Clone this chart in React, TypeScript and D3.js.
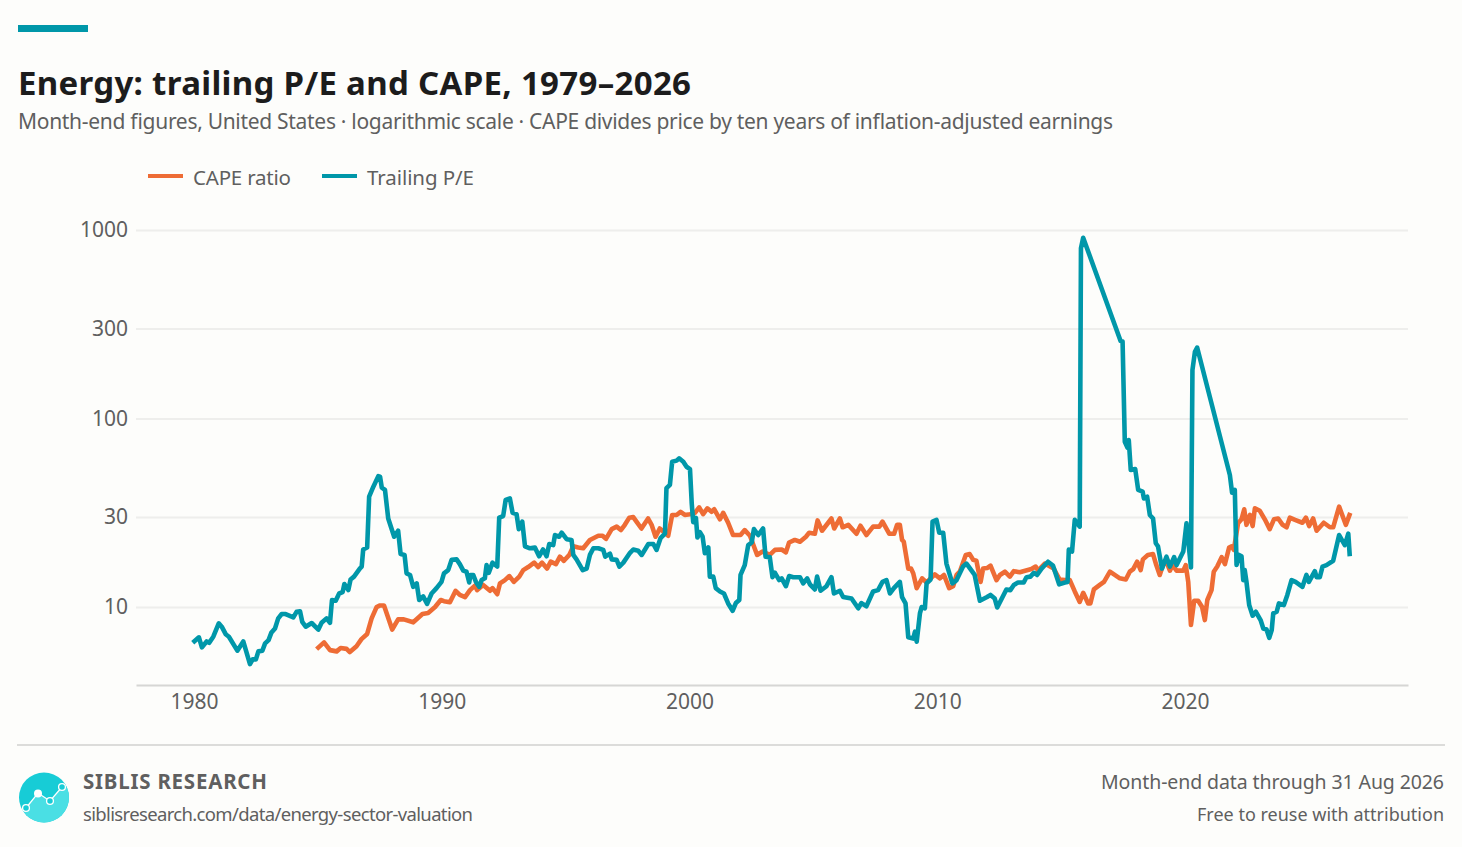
import { useEffect, useRef } from "react";
import * as d3 from "d3";

const TEAL = "#0097a9";
const ORANGE = "#ee6c35";
const INK = "#1c1c1c";
const GREY = "#5f5f5f";
const FONT = "'Noto Sans', sans-serif";

const yTicks = [10, 30, 100, 300, 1000];
const xTicks = [1980, 1990, 2000, 2010, 2020];

const peYears = [
  1979.95, 1980.2, 1980.32, 1980.51, 1980.61, 1980.78, 1981.0, 1981.12, 1981.28, 1981.41, 1981.75, 1981.99, 1982.26, 1982.37,
  1982.5, 1982.6, 1982.76, 1982.87, 1983.01, 1983.12, 1983.27, 1983.4, 1983.54, 1983.7, 1984.01, 1984.14, 1984.28, 1984.37,
  1984.51, 1984.75, 1985.02, 1985.15, 1985.35, 1985.49, 1985.57, 1985.72, 1985.86, 1986.0, 1986.07, 1986.23, 1986.32, 1986.46,
  1986.7, 1986.77, 1986.83, 1986.99, 1987.07, 1987.24, 1987.44, 1987.51, 1987.58, 1987.71, 1987.84, 1988.08, 1988.24, 1988.34,
  1988.5, 1988.58, 1988.72, 1988.85, 1988.99, 1989.09, 1989.25, 1989.41, 1989.59, 1989.79, 1989.99, 1990.09, 1990.26, 1990.4,
  1990.6, 1990.73, 1990.87, 1991.0, 1991.11, 1991.16, 1991.27, 1991.38, 1991.51, 1991.61, 1991.74, 1991.81, 1991.9, 1992.05,
  1992.24, 1992.32, 1992.48, 1992.58, 1992.75, 1992.86, 1993.02, 1993.11, 1993.25, 1993.36, 1993.56, 1993.76, 1993.93, 1994.09,
  1994.23, 1994.34, 1994.5, 1994.57, 1994.74, 1994.84, 1995.04, 1995.24, 1995.31, 1995.44, 1995.69, 1995.85, 1995.98, 1996.12,
  1996.32, 1996.52, 1996.6, 1996.79, 1996.86, 1997.06, 1997.17, 1997.33, 1997.6, 1997.73, 1997.93, 1998.07, 1998.34, 1998.54,
  1998.67, 1998.83, 1999.01, 1999.07, 1999.21, 1999.3, 1999.48, 1999.58, 1999.75, 1999.88, 2000.02, 2000.09, 2000.15, 2000.26,
  2000.32, 2000.42, 2000.53, 2000.62, 2000.76, 2000.82, 2000.96, 2001.06, 2001.23, 2001.39, 2001.56, 2001.74, 2001.87, 2002.01,
  2002.06, 2002.23, 2002.37, 2002.51, 2002.6, 2002.77, 2002.97, 2003.07, 2003.24, 2003.35, 2003.45, 2003.62, 2003.72, 2003.89,
  2004.02, 2004.19, 2004.46, 2004.59, 2004.75, 2004.86, 2005.06, 2005.15, 2005.29, 2005.53, 2005.73, 2005.83, 2006.07, 2006.2,
  2006.54, 2006.81, 2006.94, 2007.14, 2007.41, 2007.61, 2007.79, 2007.95, 2008.09, 2008.25, 2008.49, 2008.58, 2008.72, 2008.83,
  2009.03, 2009.1, 2009.17, 2009.3, 2009.37, 2009.5, 2009.57, 2009.73, 2009.81, 2009.97, 2010.08, 2010.24, 2010.37, 2010.61,
  2010.78, 2011.04, 2011.18, 2011.51, 2011.72, 2012.01, 2012.15, 2012.32, 2012.42, 2012.59, 2012.79, 2012.95, 2013.09, 2013.26,
  2013.49, 2013.6, 2013.76, 2013.9, 2014.03, 2014.21, 2014.47, 2014.67, 2014.92, 2015.15, 2015.26, 2015.31, 2015.44, 2015.55,
  2015.75, 2015.8, 2015.89, 2017.4, 2017.48, 2017.57, 2017.68, 2017.73, 2017.81, 2017.99, 2018.11, 2018.29, 2018.34, 2018.47,
  2018.58, 2018.71, 2018.82, 2018.91, 2019.07, 2019.25, 2019.39, 2019.56, 2019.66, 2019.93, 2020.06, 2020.24, 2020.3, 2020.4,
  2020.49, 2021.81, 2021.9, 2022.01, 2022.08, 2022.18, 2022.28, 2022.35, 2022.41, 2022.48, 2022.59, 2022.73, 2022.86, 2023.05,
  2023.16, 2023.29, 2023.4, 2023.5, 2023.56, 2023.7, 2023.79, 2023.99, 2024.13, 2024.3, 2024.46, 2024.74, 2024.9, 2025.0,
  2025.24, 2025.31, 2025.44, 2025.55, 2025.71, 2025.98, 2026.22, 2026.45, 2026.59, 2026.65,
];

const peValues = [
  6.46, 6.91, 6.11, 6.57, 6.46, 6.96, 8.2, 7.87, 7.18, 6.96, 5.87, 6.57, 4.98, 5.28,
  5.28, 5.82, 5.87, 6.42, 6.68, 7.3, 7.7, 8.71, 9.18, 9.18, 8.82, 9.44, 9.5, 8.35,
  7.87, 8.23, 7.6, 8.26, 8.71, 8.26, 10.89, 10.8, 11.8, 12.0, 13.25, 12.3, 14.0, 14.5,
  16.05, 16.4, 20.2, 20.7, 38.5, 43.5, 49.5, 49.2, 43, 41.8, 29.5, 23.6, 25.4, 19.1,
  18.9, 15.1, 14.8, 12.8, 13.35, 10.9, 11.4, 10.4, 11.8, 12.6, 13.6, 15.1, 15.7, 17.8,
  17.9, 16.9, 15.6, 15.4, 13.5, 14.8, 14.8, 13.6, 12.8, 13.9, 14.2, 16.7, 15.2, 17.2,
  16.4, 29.8, 30.4, 37, 37.7, 31.6, 31.1, 25.9, 28.4, 21, 20.5, 20.7, 18.6, 20.2,
  18.6, 21.6, 21.3, 24.1, 23.6, 24.8, 22.9, 22.7, 18.9, 17.9, 15.7, 16, 18.9, 20.5,
  20.5, 20.1, 18.5, 19.2, 17.9, 17.8, 16.4, 17.2, 19.4, 20.2, 19.9, 18.9, 21.6, 21.6,
  20.1, 23.2, 24.5, 42.7, 44.5, 59, 59.8, 61.5, 59, 55.5, 53.9, 35.5, 28.2, 29.7,
  23.4, 25, 23.6, 19.3, 20.7, 14.5, 14.5, 12.6, 12.1, 11.8, 10.45, 9.56, 10.5, 10.9,
  14.8, 16.7, 21.3, 22, 25.9, 24.1, 26.1, 18.5, 18.4, 14.4, 15.2, 13.9, 14.2, 12.9,
  14.6, 14.4, 14.4, 13.35, 14.2, 13.2, 12.4, 14.5, 12.2, 12.9, 14.4, 11.8, 12.2, 11.3,
  11.1, 9.85, 10.5, 10.1, 12.1, 12.3, 13.6, 13.9, 11.8, 12.6, 13.6, 11.3, 10.45, 6.91,
  6.8, 7.4, 6.55, 9.25, 10, 9.85, 13.35, 14, 28.4, 29, 24.8, 24.8, 17, 13.35,
  13.9, 16.4, 17, 14.8, 10.8, 11.3, 11.6, 11.1, 9.95, 11, 12.4, 12.3, 13.1, 13.5,
  13.5, 14.4, 14.5, 15.2, 14.8, 16, 17.4, 16.6, 13.2, 13.5, 13.6, 20.2, 19.7, 29,
  26.7, 800, 910, 258, 256, 75.3, 70, 76.9, 53.3, 54, 41.8, 40.9, 37.7, 38.5,
  30.8, 29.5, 21.8, 21, 16, 18.5, 16.4, 18.4, 16.7, 19.7, 27.8, 16.2, 181, 226,
  238, 50.2, 40.4, 41.8, 16.7, 18.9, 18.6, 13.9, 15.7, 13.6, 10.25, 9, 9.44, 8.53,
  7.7, 7.6, 6.87, 7.55, 9.25, 9.44, 10.45, 10.25, 11.6, 13.9, 13.6, 12.8, 14.8, 13.6,
  15.5, 14.4, 14.4, 16.4, 16.7, 17.6, 24.1, 21.3, 24.5, 18.6,
];

const capeYears = [
  1984.95, 1985.25, 1985.49, 1985.76, 1985.92, 1986.16, 1986.29, 1986.56, 1986.76, 1986.99, 1987.17, 1987.37, 1987.51, 1987.67,
  1988.0, 1988.24, 1988.47, 1988.85, 1989.22, 1989.45, 1989.73, 1989.96, 1990.09, 1990.33, 1990.56, 1990.73, 1990.94, 1991.14,
  1991.34, 1991.43, 1991.67, 1991.95, 1992.05, 1992.24, 1992.35, 1992.55, 1992.73, 1992.91, 1993.13, 1993.29, 1993.49, 1993.73,
  1993.89, 1994.05, 1994.25, 1994.4, 1994.61, 1994.77, 1994.93, 1995.15, 1995.31, 1995.51, 1995.71, 1995.98, 1996.32, 1996.49,
  1996.63, 1996.86, 1997.06, 1997.23, 1997.39, 1997.57, 1997.73, 1997.86, 1998.06, 1998.33, 1998.47, 1998.63, 1998.8, 1999.14,
  1999.3, 1999.48, 1999.64, 1999.81, 2000.02, 2000.22, 2000.39, 2000.55, 2000.72, 2000.89, 2001.0, 2001.23, 2001.36, 2001.56,
  2001.76, 2002.06, 2002.23, 2002.44, 2002.73, 2002.95, 2003.24, 2003.45, 2003.72, 2003.89, 2004.02, 2004.25, 2004.46, 2004.7,
  2004.83, 2005.06, 2005.17, 2005.35, 2005.73, 2005.84, 2006.07, 2006.18, 2006.41, 2006.74, 2006.9, 2007.14, 2007.41, 2007.66,
  2007.79, 2008.06, 2008.26, 2008.38, 2008.49, 2008.58, 2008.65, 2008.83, 2008.94, 2009.03, 2009.17, 2009.39, 2009.57, 2009.9,
  2010.11, 2010.27, 2010.48, 2010.64, 2010.78, 2010.91, 2011.15, 2011.31, 2011.45, 2011.58, 2011.75, 2011.85, 2012.01, 2012.15,
  2012.39, 2012.53, 2012.73, 2012.93, 2013.09, 2013.33, 2013.8, 2013.97, 2014.07, 2014.34, 2014.7, 2014.94, 2015.15, 2015.35,
  2015.55, 2015.75, 2015.89, 2016.09, 2016.18, 2016.32, 2016.56, 2016.73, 2016.97, 2017.37, 2017.61, 2017.77, 2017.91, 2018.07,
  2018.21, 2018.3, 2018.5, 2018.71, 2018.84, 2018.98, 2019.11, 2019.25, 2019.39, 2019.5, 2019.66, 2019.93, 2020.03, 2020.13,
  2020.24, 2020.37, 2020.53, 2020.69, 2020.8, 2020.9, 2021.07, 2021.16, 2021.3, 2021.48, 2021.61, 2021.78, 2021.88, 2021.97,
  2022.14, 2022.28, 2022.39, 2022.48, 2022.62, 2022.73, 2022.82, 2023.02, 2023.22, 2023.42, 2023.59, 2023.76, 2023.94, 2024.1,
  2024.23, 2024.44, 2024.74, 2024.88, 2025.01, 2025.17, 2025.31, 2025.6, 2025.85, 2025.98, 2026.22, 2026.49, 2026.67,
];

const capeValues = [
  5.98, 6.5, 5.91, 5.82, 6.06, 6, 5.77, 6.2, 6.76, 7.2, 8.71, 10, 10.2, 10.2,
  7.6, 8.6, 8.6, 8.3, 9.18, 9.3, 10, 10.9, 10.75, 10.6, 12.2, 11.6, 11.3, 12.3,
  13, 12.3, 13.1, 12.2, 12.6, 11.7, 13.35, 13.9, 14.6, 13.6, 14.5, 15.7, 16.3, 17.2,
  16.3, 17.2, 16, 17.4, 16.9, 18.5, 17.6, 18.9, 21, 20.7, 20.5, 22.7, 23.9, 23.9,
  23, 25.9, 26.7, 25.6, 27.3, 29.8, 30, 28.4, 26.1, 29.5, 27.3, 23.6, 26.1, 23.9,
  30.8, 30.8, 32, 30.8, 31.1, 31.6, 33.8, 31.1, 33.4, 32, 33, 29.2, 31.6, 28,
  24.1, 24.1, 25.6, 23.9, 18.9, 19.7, 18.9, 20.1, 20.2, 19.5, 22, 22.7, 22.2, 23.6,
  24.8, 24.5, 28.8, 25.4, 29.5, 26.1, 29.5, 26.5, 27.3, 24.5, 27, 24.1, 26.7, 26.7,
  28.4, 24.5, 24.5, 27.3, 27.3, 22.7, 22.2, 16, 16, 15.1, 12.6, 14.2, 13.5, 14.9,
  14.2, 14.8, 12.6, 12.9, 14.8, 15.4, 18.9, 19.1, 17.8, 17.6, 13.6, 16, 16.1, 16.6,
  13.9, 14.8, 15.4, 14.5, 15.5, 15.3, 15.9, 16.4, 15.6, 17, 16, 14, 13.9, 13.9,
  12.1, 10.65, 11.9, 10.45, 10.45, 12.4, 13.1, 13.6, 15.4, 14.2, 14, 15.4, 15.9, 17.4,
  15.7, 17.9, 18.9, 19.1, 16.7, 14.8, 16.7, 17.4, 15.6, 16.7, 15.6, 15.6, 16.7, 13.6,
  8.03, 10.8, 10.8, 10, 8.53, 10.9, 12.3, 15.4, 16.4, 18.4, 16.9, 20.7, 21, 20.1,
  27.8, 29.2, 33, 27.3, 30.8, 26.9, 33.4, 32.4, 29.2, 25.9, 29.2, 29.5, 27.3, 26.5,
  29.8, 29, 28, 29.8, 26.9, 29.5, 25.4, 28, 26.5, 26.5, 34.1, 27.3, 31.6,
];

const x = d3.scaleLinear().domain([1977.66, 2029]).range([136, 1408]);
const y = d3.scaleLog().domain([3.86, 1000]).range([685, 230]);

const pairs = (years: number[], values: number[]) =>
  years.map((year, i) => [year, values[i]] as [number, number]);

const App = () => {
  const axesRef = useRef<SVGGElement | null>(null);

  const line = d3
    .line<[number, number]>()
    .x((d) => x(d[0]))
    .y((d) => y(d[1]));

  useEffect(() => {
    if (!axesRef.current) return;
    const g = d3.select(axesRef.current);
    g.selectAll("*").remove();

    const yAxis = g
      .append("g")
      .attr("transform", "translate(136,0)")
      .call(
        d3
          .axisLeft(y)
          .tickValues(yTicks)
          .tickFormat((d) => String(d))
          .tickSize(0)
          .tickPadding(8)
      );
    yAxis.select(".domain").remove();
    yAxis
      .selectAll(".tick")
      .append("line")
      .attr("x2", 1272)
      .attr("stroke", "#eeeeec")
      .attr("stroke-width", 2);

    const xAxis = g
      .append("g")
      .attr("transform", "translate(0,685)")
      .call(
        d3
          .axisBottom(x)
          .tickValues(xTicks)
          .tickFormat((d) => String(d))
          .tickSize(0)
          .tickPadding(9)
      );
    xAxis.select(".domain").attr("stroke", "#d6d6d4").attr("stroke-width", 2);

    g.selectAll("text")
      .attr("font-family", FONT)
      .attr("font-size", 21)
      .attr("fill", GREY);
  }, []);

  return (
    <svg
      width={1462}
      height={847}
      style={{ position: "absolute", left: 0, top: 0, background: "#fdfdfb" }}
    >
      <rect x={18} y={25} width={70} height={7} fill={TEAL} />
      <text x={18} y={95} fontFamily={FONT} fontSize={33} fontWeight={700} fill={INK} textLength={673}>
        Energy: trailing P/E and CAPE, 1979–2026
      </text>
      <text x={18} y={129} fontFamily={FONT} fontSize={21} fill={GREY} textLength={1095}>
        Month-end figures, United States · logarithmic scale · CAPE divides price by ten years of inflation-adjusted earnings
      </text>

      <line x1={148} x2={183} y1={176} y2={176} stroke={ORANGE} strokeWidth={4} />
      <text x={193} y={185} fontFamily={FONT} fontSize={20.5} fill={GREY} textLength={98}>
        CAPE ratio
      </text>
      <line x1={322} x2={357} y1={176} y2={176} stroke={TEAL} strokeWidth={4} />
      <text x={367} y={185} fontFamily={FONT} fontSize={20.5} fill={GREY} textLength={107}>
        Trailing P/E
      </text>

      <g ref={axesRef} />

      <path
        d={line(pairs(capeYears, capeValues)) ?? ""}
        fill="none"
        stroke={ORANGE}
        strokeWidth={4.6}
        strokeLinejoin="round"
      />
      <path
        d={line(pairs(peYears, peValues)) ?? ""}
        fill="none"
        stroke={TEAL}
        strokeWidth={4.6}
        strokeLinejoin="round"
      />

      <line x1={17} x2={1445} y1={745} y2={745} stroke="#dcdcda" strokeWidth={2} />

      <clipPath id="logo-clip">
        <circle cx={44} cy={797.5} r={25} />
      </clipPath>
      <g clipPath="url(#logo-clip)">
        <rect x={19} y={772} width={50} height={51} fill="#17ccd6" />
        <path d="M15 818 L26 808 L38 793 L50 801 L62 787 L75 775 L75 830 L15 830 Z" fill="#4adfe4" />
      </g>
      <path d="M26 808 L38 793 L50 801 L62 787" fill="none" stroke="#fff" strokeWidth={1.3} />
      <circle cx={26} cy={808} r={3.4} fill="#17ccd6" stroke="#fff" strokeWidth={1.3} />
      <circle cx={38} cy={793.5} r={4} fill="#fff" />
      <circle cx={50} cy={801} r={3.4} fill="#17ccd6" stroke="#fff" strokeWidth={1.3} />
      <circle cx={62} cy={787} r={3.4} fill="#17ccd6" stroke="#fff" strokeWidth={1.3} />

      <text x={83} y={789} fontFamily={FONT} fontSize={20.5} fontWeight={700} fill={GREY} textLength={184}>
        SIBLIS RESEARCH
      </text>
      <text x={83} y={821} fontFamily={FONT} fontSize={18.5} fill={GREY} textLength={390}>
        siblisresearch.com/data/energy-sector-valuation
      </text>
      <text x={1444} y={789} textAnchor="end" fontFamily={FONT} fontSize={19.5} fill={GREY} textLength={343}>
        Month-end data through 31 Aug 2026
      </text>
      <text x={1444} y={821} textAnchor="end" fontFamily={FONT} fontSize={18} fill={GREY} textLength={247}>
        Free to reuse with attribution
      </text>
    </svg>
  );
};

export default App;
